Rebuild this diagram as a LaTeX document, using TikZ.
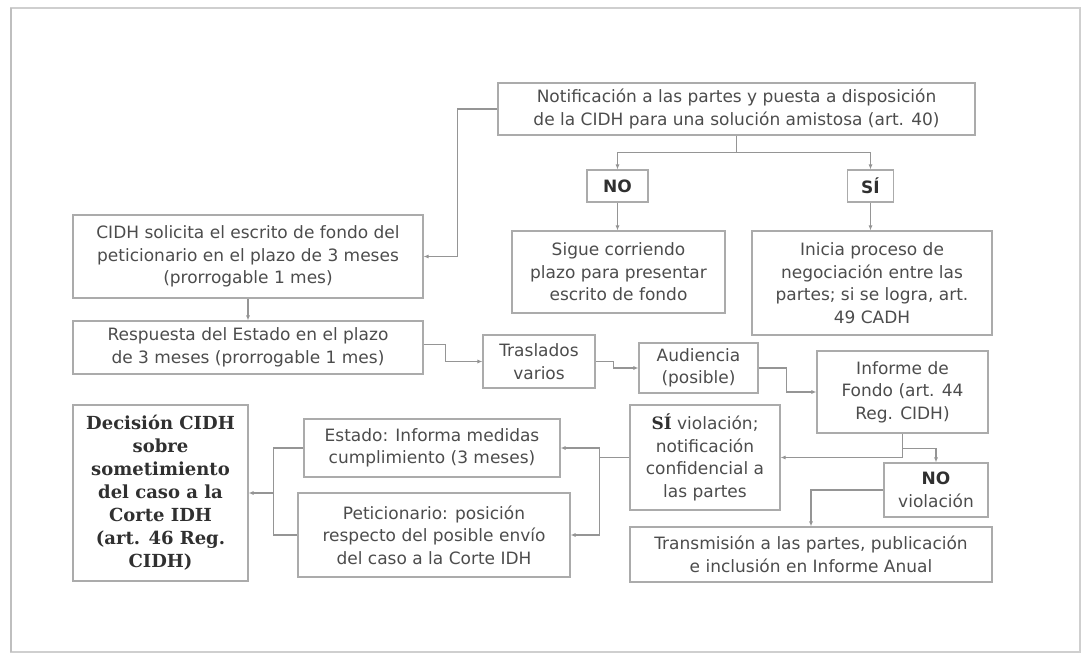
\documentclass[tikz,border=0pt]{standalone}
\usepackage{fontspec}
\setmainfont{DejaVu Sans}
\newfontfamily\bserif{DejaVu Serif}
\usetikzlibrary{arrows.meta}
\definecolor{txt}{HTML}{4C4C4C}
\definecolor{btxt}{HTML}{303030}
\definecolor{bord}{HTML}{ABABAB}
\definecolor{lin}{HTML}{959595}
\definecolor{frm}{HTML}{CFCFCF}
\tikzset{
  box/.style={draw=bord, line width=1.1pt, align=center, text=txt, inner sep=0pt,
    font=\fontsize{17}{22.5}\selectfont},
  ln/.style={draw=lin, line width=1.1pt},
  arr/.style={ln, -{Latex[length=5pt,width=4pt]}},
}
\begin{document}
\begin{tikzpicture}[x=1pt,y=-1pt]
\useasboundingbox (0,0) rectangle (1084,655);
\draw[frm, line width=1.3pt] (11,8) rectangle (1080,652);
\draw[gray!50, line width=1.8pt] (11,8) -- (11,652);

\node[box, minimum width=477pt, minimum height=52pt] (notif) at (736.5,109)
  {Notificación a las partes y puesta a disposición\\de la CIDH para una solución amistosa (art. 40)};
\node[box, minimum width=61pt, minimum height=32pt, font=\fontsize{17}{22}\selectfont\bfseries, text=btxt] (no1) at (617.5,186) {NO};
\node[box, minimum width=46pt, minimum height=32pt, font=\fontsize{17}{22}\selectfont\bfseries, text=btxt] (si1) at (870.5,186) {SÍ};
\node[box, minimum width=213pt, minimum height=82pt] (sigue) at (618.5,272)
  {Sigue corriendo\\plazo para presentar\\escrito de fondo};
\node[box, minimum width=240pt, minimum height=104pt] (inicia) at (872,283)
  {Inicia proceso de\\negociación entre las\\partes; si se logra, art.\\49 CADH};
\node[box, minimum width=350pt, minimum height=83pt] (cidh) at (248,256.5)
  {CIDH solicita el escrito de fondo del\\peticionario en el plazo de 3 meses\\(prorrogable 1 mes)};
\node[box, minimum width=350pt, minimum height=53pt] (resp) at (248,347.5)
  {Respuesta del Estado en el plazo\\de 3 meses (prorrogable 1 mes)};
\node[box, minimum width=112pt, minimum height=53pt] (tras) at (539,361.5)
  {Traslados\\varios};
\node[box, minimum width=119pt, minimum height=50pt] (aud) at (698.5,368)
  {Audiencia\\(posible)};
\node[box, minimum width=171pt, minimum height=82pt] (inf) at (902.5,392)
  {Informe de\\Fondo (art. 44\\Reg. CIDH)};
\node[box, minimum width=150pt, minimum height=105pt] (siv) at (705,457.5)
  {{\bserif\bfseries\color{btxt}SÍ} violación;\\notificación\\confidencial a\\las partes};
\node[box, minimum width=104pt, minimum height=54pt] (nov) at (936,490)
  {{\bfseries\color{btxt}NO}\\violación};
\node[box, minimum width=362pt, minimum height=55pt] (trans) at (811,554.5)
  {Transmisión a las partes, publicación\\e inclusión en Informe Anual};
\node[box, minimum width=256pt, minimum height=58pt] (estado) at (432,448)
  {Estado: Informa medidas\\cumplimiento (3 meses)};
\node[box, minimum width=272pt, minimum height=84pt] (petic) at (434,535)
  {Peticionario: posición\\respecto del posible envío\\del caso a la Corte IDH};
\node[box, minimum width=175pt, minimum height=176pt, text=btxt,
  font=\fontsize{18}{23}\selectfont\bserif\bfseries] (dec) at (160.5,493)
  {Decisión CIDH\\sobre\\sometimiento\\del caso a la\\Corte IDH\\(art. 46 Reg.\\CIDH)};

% connectors
\draw[arr] (notif.west) -| ([xshift=34pt]cidh.east) -- (cidh.east);
\draw[ln] (notif.south) -- ++(0,17) coordinate (split);
\draw[arr] (split) -| (no1.north);
\draw[arr] (split) -| (si1.north);
\draw[arr] (no1.south) -- (no1.south |- sigue.north);
\draw[arr] (si1.south) -- (si1.south |- inicia.north);
\draw[arr] (cidh.south) -- (resp.north);
\draw[arr] ([yshift=3pt]resp.east) -- ++(22,0) |- (tras.west);
\draw[arr] (tras.east) -- ++(18,0) |- (aud.west);
\draw[arr] (aud.east) -- ++(28,0) |- (inf.west);
\draw[arr] (inf.south) |- (siv.east);
\draw[arr] ([yshift=-15pt]inf.south) -| (nov.north);
\draw[arr] (nov.west) -| (trans.north);
\draw[ln] (siv.west) -- ++(-30,0) coordinate (m2);
\draw[arr] (m2) |- (estado.east);
\draw[arr] (m2) |- (petic.east);
\coordinate (m3) at ([xshift=25pt]dec.east);
\draw[ln] (estado.west) -| (m3);
\draw[ln] (petic.west) -| (m3);
\draw[arr] (m3) -- (dec.east);
\end{tikzpicture}
\end{document}
